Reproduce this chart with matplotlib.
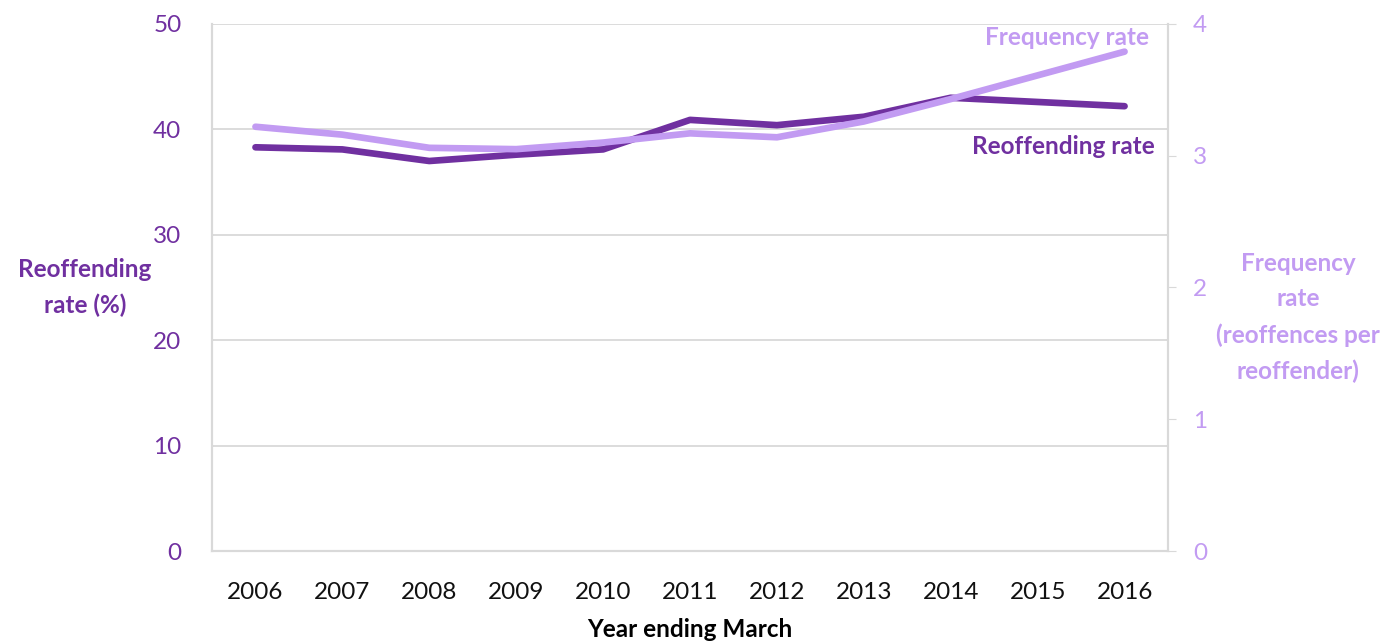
import matplotlib.pyplot as plt

plt.rcParams['font.family'] = ['Lato', 'DejaVu Sans']

years = [2006, 2007, 2008, 2009, 2010, 2011, 2012, 2013, 2014, 2015, 2016]
reoffending = [38.3, 38.1, 37.0, 37.6, 38.1, 40.9, 40.4, 41.2, 43.0, 42.6, 42.2]
frequency = [3.22, 3.16, 3.06, 3.05, 3.10, 3.17, 3.14, 3.26, 3.43, 3.61, 3.79]

dark = '#7030a0'
light = '#c29bf2'
grey = '#d9d9d9'

fig = plt.figure(figsize=(13.93, 6.41), dpi=100)
ax = fig.add_axes([0.1522, 0.1404, 0.6863, 0.8222])
ax2 = ax.twinx()

ax.plot(years, reoffending, color=dark, lw=4.8, solid_capstyle='round', zorder=3)
ax2.plot(years, frequency, color=light, lw=4.8, solid_capstyle='round', zorder=2)

ax.set_xlim(2005.5, 2016.5)
ax.set_ylim(0, 50)
ax2.set_ylim(0, 4)
ax.set_xticks(years)
ax.set_yticks(range(0, 51, 10))
ax2.set_yticks(range(0, 5))

ax.grid(axis='y', color=grey, lw=1.3)
ax.set_axisbelow(True)
for a in (ax, ax2):
    a.spines['top'].set_visible(False)
    for s in ('left', 'bottom', 'right'):
        a.spines[s].set_color(grey)
        a.spines[s].set_linewidth(1.5)

ax.tick_params(axis='x', length=0, pad=22, labelsize=17.5, labelcolor='#111111')
ax.tick_params(axis='y', length=0, pad=22, labelsize=17.5, labelcolor=dark)
ax2.tick_params(axis='y', length=6, color=grey, pad=12, labelsize=17.5, labelcolor=light)

ax.set_xlabel('Year ending March', fontsize=17.5, fontweight='bold', labelpad=11)
fig.text(0.061, 0.551, 'Reoffending\nrate (%)', ha='center', va='center',
         fontsize=17.5, fontweight='bold', color=dark, linespacing=1.65)
fig.text(0.932, 0.505, 'Frequency\nrate\n(reoffences per\nreoffender)', ha='center',
         va='center', fontsize=17.5, fontweight='bold', color=light, linespacing=1.65)

ax2.text(2016.28, 3.9, 'Frequency rate', ha='right', va='center',
         fontsize=17.5, fontweight='bold', color=light)
ax.text(2016.35, 38.35, 'Reoffending rate', ha='right', va='center',
        fontsize=17.5, fontweight='bold', color=dark)

fig.savefig('out.png', dpi=100)
